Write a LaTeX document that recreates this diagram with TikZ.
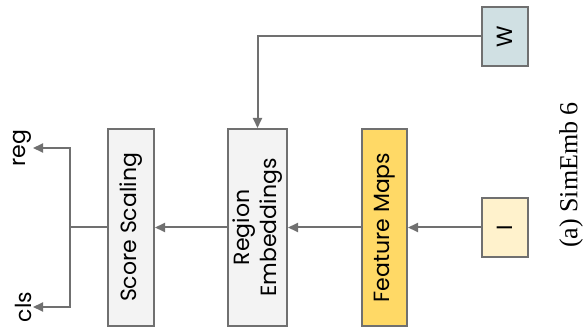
\documentclass[tikz,border=0pt]{standalone}
\usepackage{fontspec}
\setmainfont{Liberation Serif}
\newfontfamily\boxfont{Poppins}
\usepackage{xcolor}
\usetikzlibrary{arrows.meta}

\definecolor{linegray}{HTML}{707070}
\definecolor{boxgray}{HTML}{F3F3F3}
\definecolor{mapyellow}{HTML}{FFD966}
\definecolor{imgyellow}{HTML}{FFF2CC}
\definecolor{wblue}{HTML}{D0E0E3}

\tikzset{
  flow/.style={-{Triangle[length=10pt, width=9pt]}, draw=linegray, line width=2pt},
  blk/.style={rectangle, draw=linegray, line width=2pt, rotate=90, align=center,
    inner sep=0pt, font=\boxfont\fontsize{22}{27}\selectfont},
  tall/.style={blk, minimum width=197pt},
  small/.style={blk, minimum width=59pt, minimum height=46pt},
  outlbl/.style={rotate=90, inner sep=1pt, font=\boxfont\fontsize{22}{27}\selectfont}
}

\begin{document}
\begin{tikzpicture}[x=1pt, y=-1pt]
\useasboundingbox (0,0) rectangle (587,331);
% pipeline, drawn rotated by 90 degrees
\node[tall, minimum height=46pt, fill=boxgray] (score) at (131,227.5) {Score Scaling};
\node[tall, minimum height=59pt, fill=boxgray] (regemb) at (257.5,227.5) {Region\\Embeddings};
\node[tall, minimum height=45pt, fill=mapyellow] (fmaps) at (384.5,227.5) {Feature Maps};
\node[small, fill=imgyellow] (img) at (505,227.5) {I};
\node[small, fill=wblue] (wgt) at (505,36.5) {W};
\node[outlbl, anchor=south] (reg) at (33,148) {reg};
\node[outlbl, anchor=south] (cls) at (33,307) {cls};
\coordinate (split) at (70,227.5);
\draw[flow] (img) -- (fmaps);
\draw[flow] (fmaps) -- (regemb);
\draw[flow] (regemb) -- (score);
\draw[flow] (wgt) -| (regemb.east);
\draw[draw=linegray, line width=2pt] (score) -- (split);
\draw[flow] (split) |- (reg.south);
\draw[flow] (split) |- (cls.south);
% caption
\node[rotate=90, font=\fontsize{26}{30}\selectfont] (cap) at (571,175) {(a) SimEmb 6};
\end{tikzpicture}
\end{document}
